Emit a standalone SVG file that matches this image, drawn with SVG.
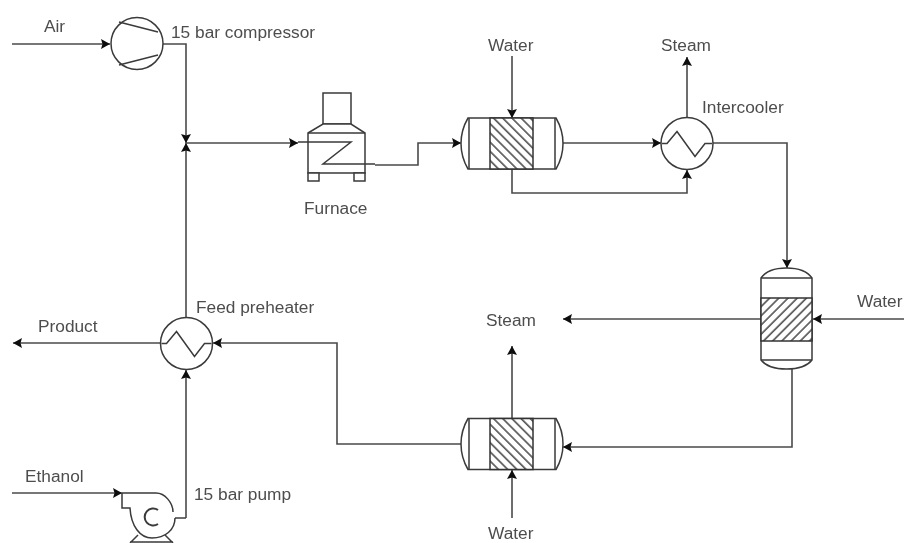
<svg xmlns="http://www.w3.org/2000/svg" width="904" height="543" viewBox="0 0 904 543">
<style>
.s{fill:none;stroke:#3a3a3a;stroke-width:1.5}
.b{fill:#fff;stroke:#3a3a3a;stroke-width:1.5}
.c{fill:none;stroke:#4a4a4a;stroke-width:1.6;marker-end:url(#a)}
.p{fill:none;stroke:#4a4a4a;stroke-width:1.6}
text{font-family:"Liberation Sans",Arial,sans-serif;font-size:17.300px;fill:#4d4d4d}
</style>
<defs>
<filter id="f" x="0" y="0" width="100%" height="100%"><feGaussianBlur stdDeviation="0.55"/></filter>
<marker id="a" markerWidth="12" markerHeight="12" refX="9" refY="5" orient="auto" markerUnits="userSpaceOnUse"><path d="M0 0L9 5L0 10L1.500 5Z" fill="#111"/></marker>
<pattern id="h1" width="6.500" height="6.500" patternUnits="userSpaceOnUse" patternTransform="rotate(-45)"><rect width="6.500" height="6.500" fill="#fff"/><line x1="0" y1="1" x2="6.500" y2="1" stroke="#444" stroke-width="1.500"/></pattern>
<pattern id="h2" width="6.500" height="6.500" patternUnits="userSpaceOnUse" patternTransform="rotate(45)"><rect width="6.500" height="6.500" fill="#fff"/><line x1="0" y1="1" x2="6.500" y2="1" stroke="#444" stroke-width="1.500"/></pattern>
<g id="hx">
<path class="b" d="M468 118H556Q563 130 563 143.500Q563 157 556 169H468Q461 157 461 143.500Q461 130 468 118Z"/>
<line class="s" x1="469" y1="118" x2="469" y2="169"/>
<line class="s" x1="555" y1="118" x2="555" y2="169"/>
<rect x="490" y="118" width="43" height="51" fill="url(#h2)" stroke="#333" stroke-width="1.500"/>
</g>
<g id="hc">
<circle class="b" cx="0" cy="0" r="26"/>
<path class="s" d="M-25 0H-20L-10 -12L8 13L18 0H25"/>
</g>
</defs>
<rect width="904" height="543" fill="#fff"/>
<g filter="url(#f)">
<g id="connectors">
<path class="c" d="M12 44H110"/>
<path class="c" d="M163 44H186V143"/>
<path class="c" d="M186 318V143"/>
<path class="c" d="M186 143H298"/>
<path class="c" d="M375 165H418V143H461"/>
<path class="c" d="M512 56V118"/>
<path class="c" d="M563 143H661"/>
<path class="c" d="M687 118V57"/>
<path class="c" d="M512 169V193H687V170"/>
<path class="c" d="M713 143H787V268"/>
<path class="c" d="M904 319H813"/>
<path class="c" d="M761 319H563"/>
<path class="c" d="M792 369V447H563"/>
<path class="c" d="M461 444H337V343H213"/>
<path class="c" d="M512 418V346"/>
<path class="c" d="M512 518V470"/>
<path class="c" d="M161 343H13"/>
<path class="c" d="M186 518V370"/>
<path class="c" d="M12 493H122"/>
<path class="p" d="M175 518H186"/>
</g>
<g id="compressor">
<circle class="b" cx="137" cy="43.500" r="26"/>
<path class="s" d="M119 22L158 32M119 65L158 55"/>
</g>
<g id="furnace">
<rect class="b" x="323" y="93" width="28" height="31"/>
<path class="b" d="M308 133L323 124H351L365 133V173H308Z"/>
<line class="s" x1="308" y1="133" x2="365" y2="133"/>
<rect class="b" x="308" y="173" width="11" height="8"/>
<rect class="b" x="354" y="173" width="11" height="8"/>
<path class="s" d="M298 142H351L323 164H375"/>
</g>
<g id="cooler-1"><use href="#hx"/></g>
<g id="intercooler"><use href="#hc" x="687" y="143.500"/></g>
<g id="column">
<path class="b" d="M761 278Q768 268 786.500 268Q805 268 812 278V360Q805 369 786.500 369Q768 369 761 360Z"/>
<line class="s" x1="761" y1="278" x2="812" y2="278"/>
<line class="s" x1="761" y1="360" x2="812" y2="360"/>
<rect x="761" y="298" width="51" height="43" fill="url(#h1)" stroke="#333" stroke-width="1.500"/>
</g>
<g id="cooler-2"><use href="#hx" y="300.500"/></g>
<g id="feed-preheater"><use href="#hc" x="186.500" y="343.500"/></g>
<g id="pump">
<path class="s" d="M122 493V508H130C131 526 140 538 152 538C165 538 175 530 175 518M122 493H156C165 493 173 503 173 512"/>
<path class="s" style="stroke-width:2" d="M158 510A8.500 8.500 0 1 0 158 524"/>
<path class="s" d="M130 543L138 535M173 543L165 535M130 542H173"/>
</g>
<g id="labels">
<text x="44" y="32">Air</text>
<text x="171" y="38">15 bar compressor</text>
<text x="304" y="214">Furnace</text>
<text x="488" y="51">Water</text>
<text x="661" y="51">Steam</text>
<text x="702" y="113">Intercooler</text>
<text x="857" y="307">Water</text>
<text x="486" y="326">Steam</text>
<text x="196" y="313">Feed preheater</text>
<text x="38" y="332">Product</text>
<text x="25" y="482">Ethanol</text>
<text x="194" y="500">15 bar pump</text>
<text x="488" y="539">Water</text>
</g>
</g>
</svg>
